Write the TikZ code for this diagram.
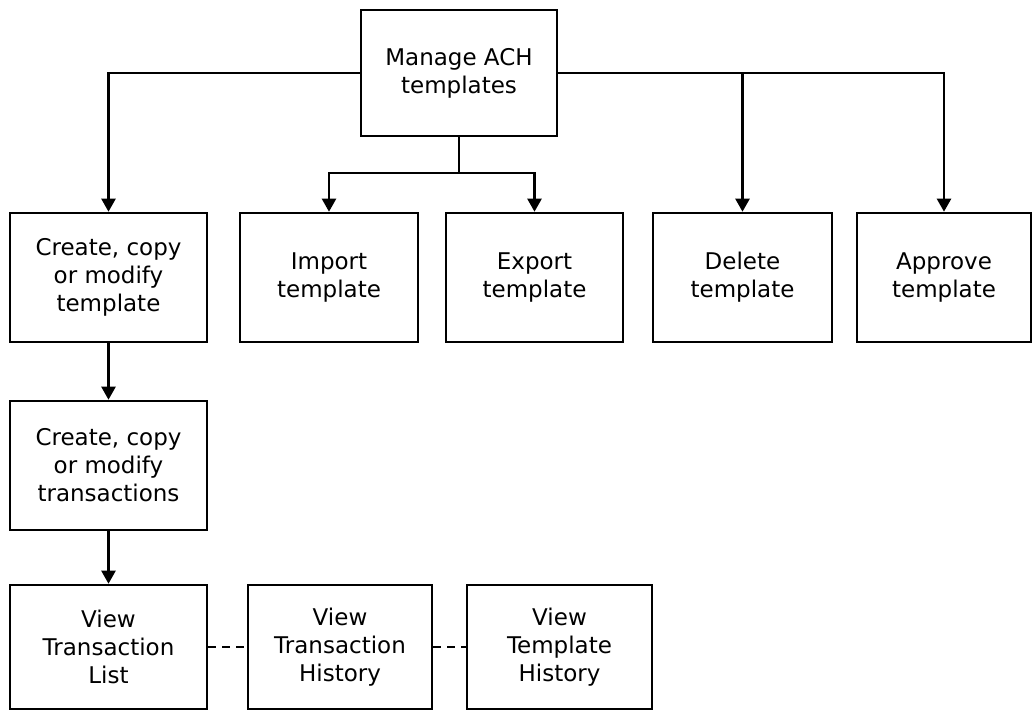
\documentclass[tikz,border=0pt]{standalone}
\usepackage{fontspec}
\setmainfont{DejaVu Sans}
\usepackage{tikz}
\usetikzlibrary{positioning, arrows.meta, calc}

\begin{document}
\begin{tikzpicture}[x=1pt, y=-1pt,
        font=\fontsize{23}{28}\selectfont,
        box/.style={rectangle, draw, line width=2.6pt, fill=white, align=center,
            inner sep=0pt, minimum height=129pt},
        arr/.style={-{Triangle[length=13pt, width=14pt]}, line width=2.4pt},
        link/.style={line width=2.4pt},
        dotlink/.style={line width=2pt, dash pattern=on 8pt off 6pt}
    ]
    \useasboundingbox (0,0) rectangle (1033,711);
    % top
    \node[box, minimum width=196pt, minimum height=126pt] (manage) at (459,73) {Manage ACH\\templates};
    % second row
    \node[box, minimum width=197pt] (tmpl) at (108.5,277.5) {Create, copy\\or modify\\template};
    \node[box, minimum width=178pt] (import) at (329,277.5) {Import\\template};
    \node[box, minimum width=177pt] (export) at (534.5,277.5) {Export\\template};
    \node[box, minimum width=179pt] (delete) at (742.5,277.5) {Delete\\template};
    \node[box, minimum width=174pt] (approve) at (944,277.5) {Approve\\template};
    % left column
    \node[box, minimum width=197pt] (trans) at (108.5,465.5) {Create, copy\\or modify\\transactions};
    \node[box, minimum width=197pt, minimum height=124pt] (list) at (108.5,647) {View\\Transaction\\List};
    \node[box, minimum width=184pt, minimum height=124pt] (thist) at (340,647) {View\\Transaction\\History};
    \node[box, minimum width=185pt, minimum height=124pt] (tplhist) at (559.5,647) {View\\Template\\History};
    \coordinate (fork) at (459,173);
    % connectors
    \draw[arr] (manage.west) -| (tmpl.north);
    \draw[arr] (manage.east) -| (approve.north);
    \draw[arr] (manage.east -| delete.north) -- (delete.north);
    \draw[link] (manage.south) -- (fork);
    \draw[arr] (fork) -| (import.north);
    \draw[arr] (fork) -| (export.north);
    \draw[arr] (tmpl) -- (trans);
    \draw[arr] (trans) -- (list);
    \draw[dotlink] (list) -- (thist);
    \draw[dotlink] (thist) -- (tplhist);
\end{tikzpicture}
\end{document}
